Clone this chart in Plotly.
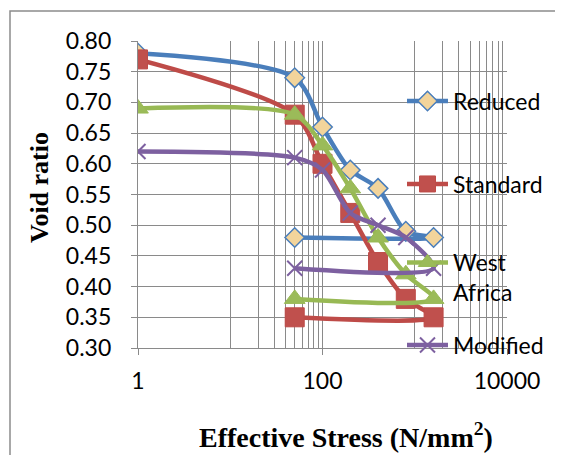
import plotly.graph_objects as go

# ---- data ----
stress = [1, 50, 100, 200, 400, 800, 1600, 50]
reduced = [0.78, 0.74, 0.66, 0.59, 0.56, 0.49, 0.48, 0.48]
standard = [0.77, 0.68, 0.60, 0.52, 0.44, 0.38, 0.35, 0.35]
west_africa = [0.69, 0.68, 0.63, 0.56, 0.48, 0.42, 0.38, 0.38]
modified = [0.62, 0.61, 0.59, 0.52, 0.50, 0.48, 0.43, 0.43]

series_names = ["Reduced", "Standard", "West<br>Africa", "Modified"]
x_tick_vals = [1, 100, 10000]
x_tick_text = ["1", "100", "10000"]
x_minor_vals = [10, 20, 30, 40, 50, 60, 70, 80, 90,
                1000, 2000, 3000, 4000, 5000, 6000, 7000, 8000, 9000]

# ---- layout geometry (page has an 8px body margin) ----
OFF = 8
W, H = 563 - 2 * OFF, 463 - 2 * OFF
ML, MT = 138 - OFF, 41 - OFF
PW, PH = 369, 307
MR, MB = W - ML - PW, H - MT - PH


def px_x(px):
    return (px - OFF - ML) / PW


def px_y(py):
    return (MT + PH - (py - OFF)) / PH


GRID = "#8a8a8a"
FONT = "Lato"
SMOOTH = 0.8

blue, red, green, purple = "#4A7EBB", "#BE4B48", "#98B954", "#7D60A0"

fig = go.Figure()
fig.add_trace(go.Scatter(
    x=stress, y=reduced, name=series_names[0], mode="lines+markers",
    line=dict(color=blue, width=4.5, shape="spline", smoothing=SMOOTH),
    marker=dict(symbol="diamond", size=15, color="#F2D49B",
                line=dict(color=blue, width=1.5)),
    legend="legend"))
fig.add_trace(go.Scatter(
    x=stress, y=standard, name=series_names[1], mode="lines+markers",
    line=dict(color=red, width=4.5, shape="spline", smoothing=SMOOTH),
    marker=dict(symbol="square", size=19, color="#C0504D",
                line=dict(color=red, width=1)),
    legend="legend2"))
fig.add_trace(go.Scatter(
    x=stress, y=west_africa, name=series_names[2], mode="lines+markers",
    line=dict(color=green, width=4.5, shape="spline", smoothing=SMOOTH),
    marker=dict(symbol="triangle-up", size=18, color="#9BBB59",
                line=dict(color=green, width=1)),
    legend="legend3"))
fig.add_trace(go.Scatter(
    x=stress, y=modified, name=series_names[3], mode="lines+markers",
    line=dict(color=purple, width=4.5, shape="spline", smoothing=SMOOTH),
    marker=dict(symbol="x-thin", size=15, color=purple,
                line=dict(color=purple, width=2)),
    legend="legend4"))

leg_common = dict(font=dict(family=FONT, size=23, color="black"),
                  bgcolor="rgba(0,0,0,0)", borderwidth=0, itemwidth=41,
                  xanchor="left", valign="top", itemclick=False)

# outer chart-area border: only the left and top edges are in view
bx0, by_top, bx_right, by_bottom = px_x(10), px_y(11), px_x(600), px_y(480)
border_path = f"M {bx0},{by_bottom} L {bx0},{by_top} L {bx_right},{by_top}"

fig.update_layout(
    width=W, height=H,
    margin=dict(l=ML, r=MR, t=MT, b=MB, pad=0, autoexpand=False),
    paper_bgcolor="white", plot_bgcolor="white",
    font=dict(family=FONT, size=23, color="black"),
    xaxis=dict(type="log", range=[0, 4], tickvals=x_tick_vals, ticktext=x_tick_text,
               showgrid=True, gridcolor=GRID, gridwidth=1.2,
               minor=dict(tickvals=x_minor_vals, showgrid=True, gridcolor=GRID,
                          gridwidth=1.2, ticks=""),
               showline=True, linecolor=GRID, linewidth=1.2,
               ticks="outside", ticklen=6, tickcolor=GRID, tickwidth=1.2,
               tickfont=dict(family=FONT, size=23), ticklabelstandoff=6,
               zeroline=False, automargin=False),
    yaxis=dict(range=[0.30, 0.80], dtick=0.05, tick0=0.30, tickformat=".2f",
               showgrid=True, gridcolor=GRID, gridwidth=1.2,
               showline=True, linecolor=GRID, linewidth=1.2,
               ticks="outside", ticklen=6, tickcolor=GRID, tickwidth=1.2,
               tickfont=dict(family=FONT, size=23), ticklabelstandoff=15,
               zeroline=False, automargin=False),
    legend=dict(x=px_x(402), y=px_y(101), yanchor="middle", **leg_common),
    legend2=dict(x=px_x(402), y=px_y(184), yanchor="middle", **leg_common),
    legend3=dict(x=px_x(402), y=px_y(241), yanchor="top", **leg_common),
    legend4=dict(x=px_x(402), y=px_y(345), yanchor="middle", **leg_common),
    showlegend=True,
    shapes=[dict(type="path", xref="paper", yref="paper", path=border_path,
                 line=dict(color="#8c8c8c", width=1.5), layer="below")],
    annotations=[
        dict(text="<b>Void ratio</b>", textangle=-90, xref="paper", yref="paper",
             x=px_x(39), y=px_y(188), xanchor="center", yanchor="middle",
             showarrow=False, font=dict(family="Liberation Serif", size=26, color="black")),
        dict(text="<b>Effective Stress (N/mm<sup>2</sup>)</b>", xref="paper", yref="paper",
             x=px_x(346), y=px_y(435), xanchor="center", yanchor="middle",
             showarrow=False, font=dict(family="Liberation Serif", size=28, color="black")),
    ],
)

fig.write_html("out.html")
